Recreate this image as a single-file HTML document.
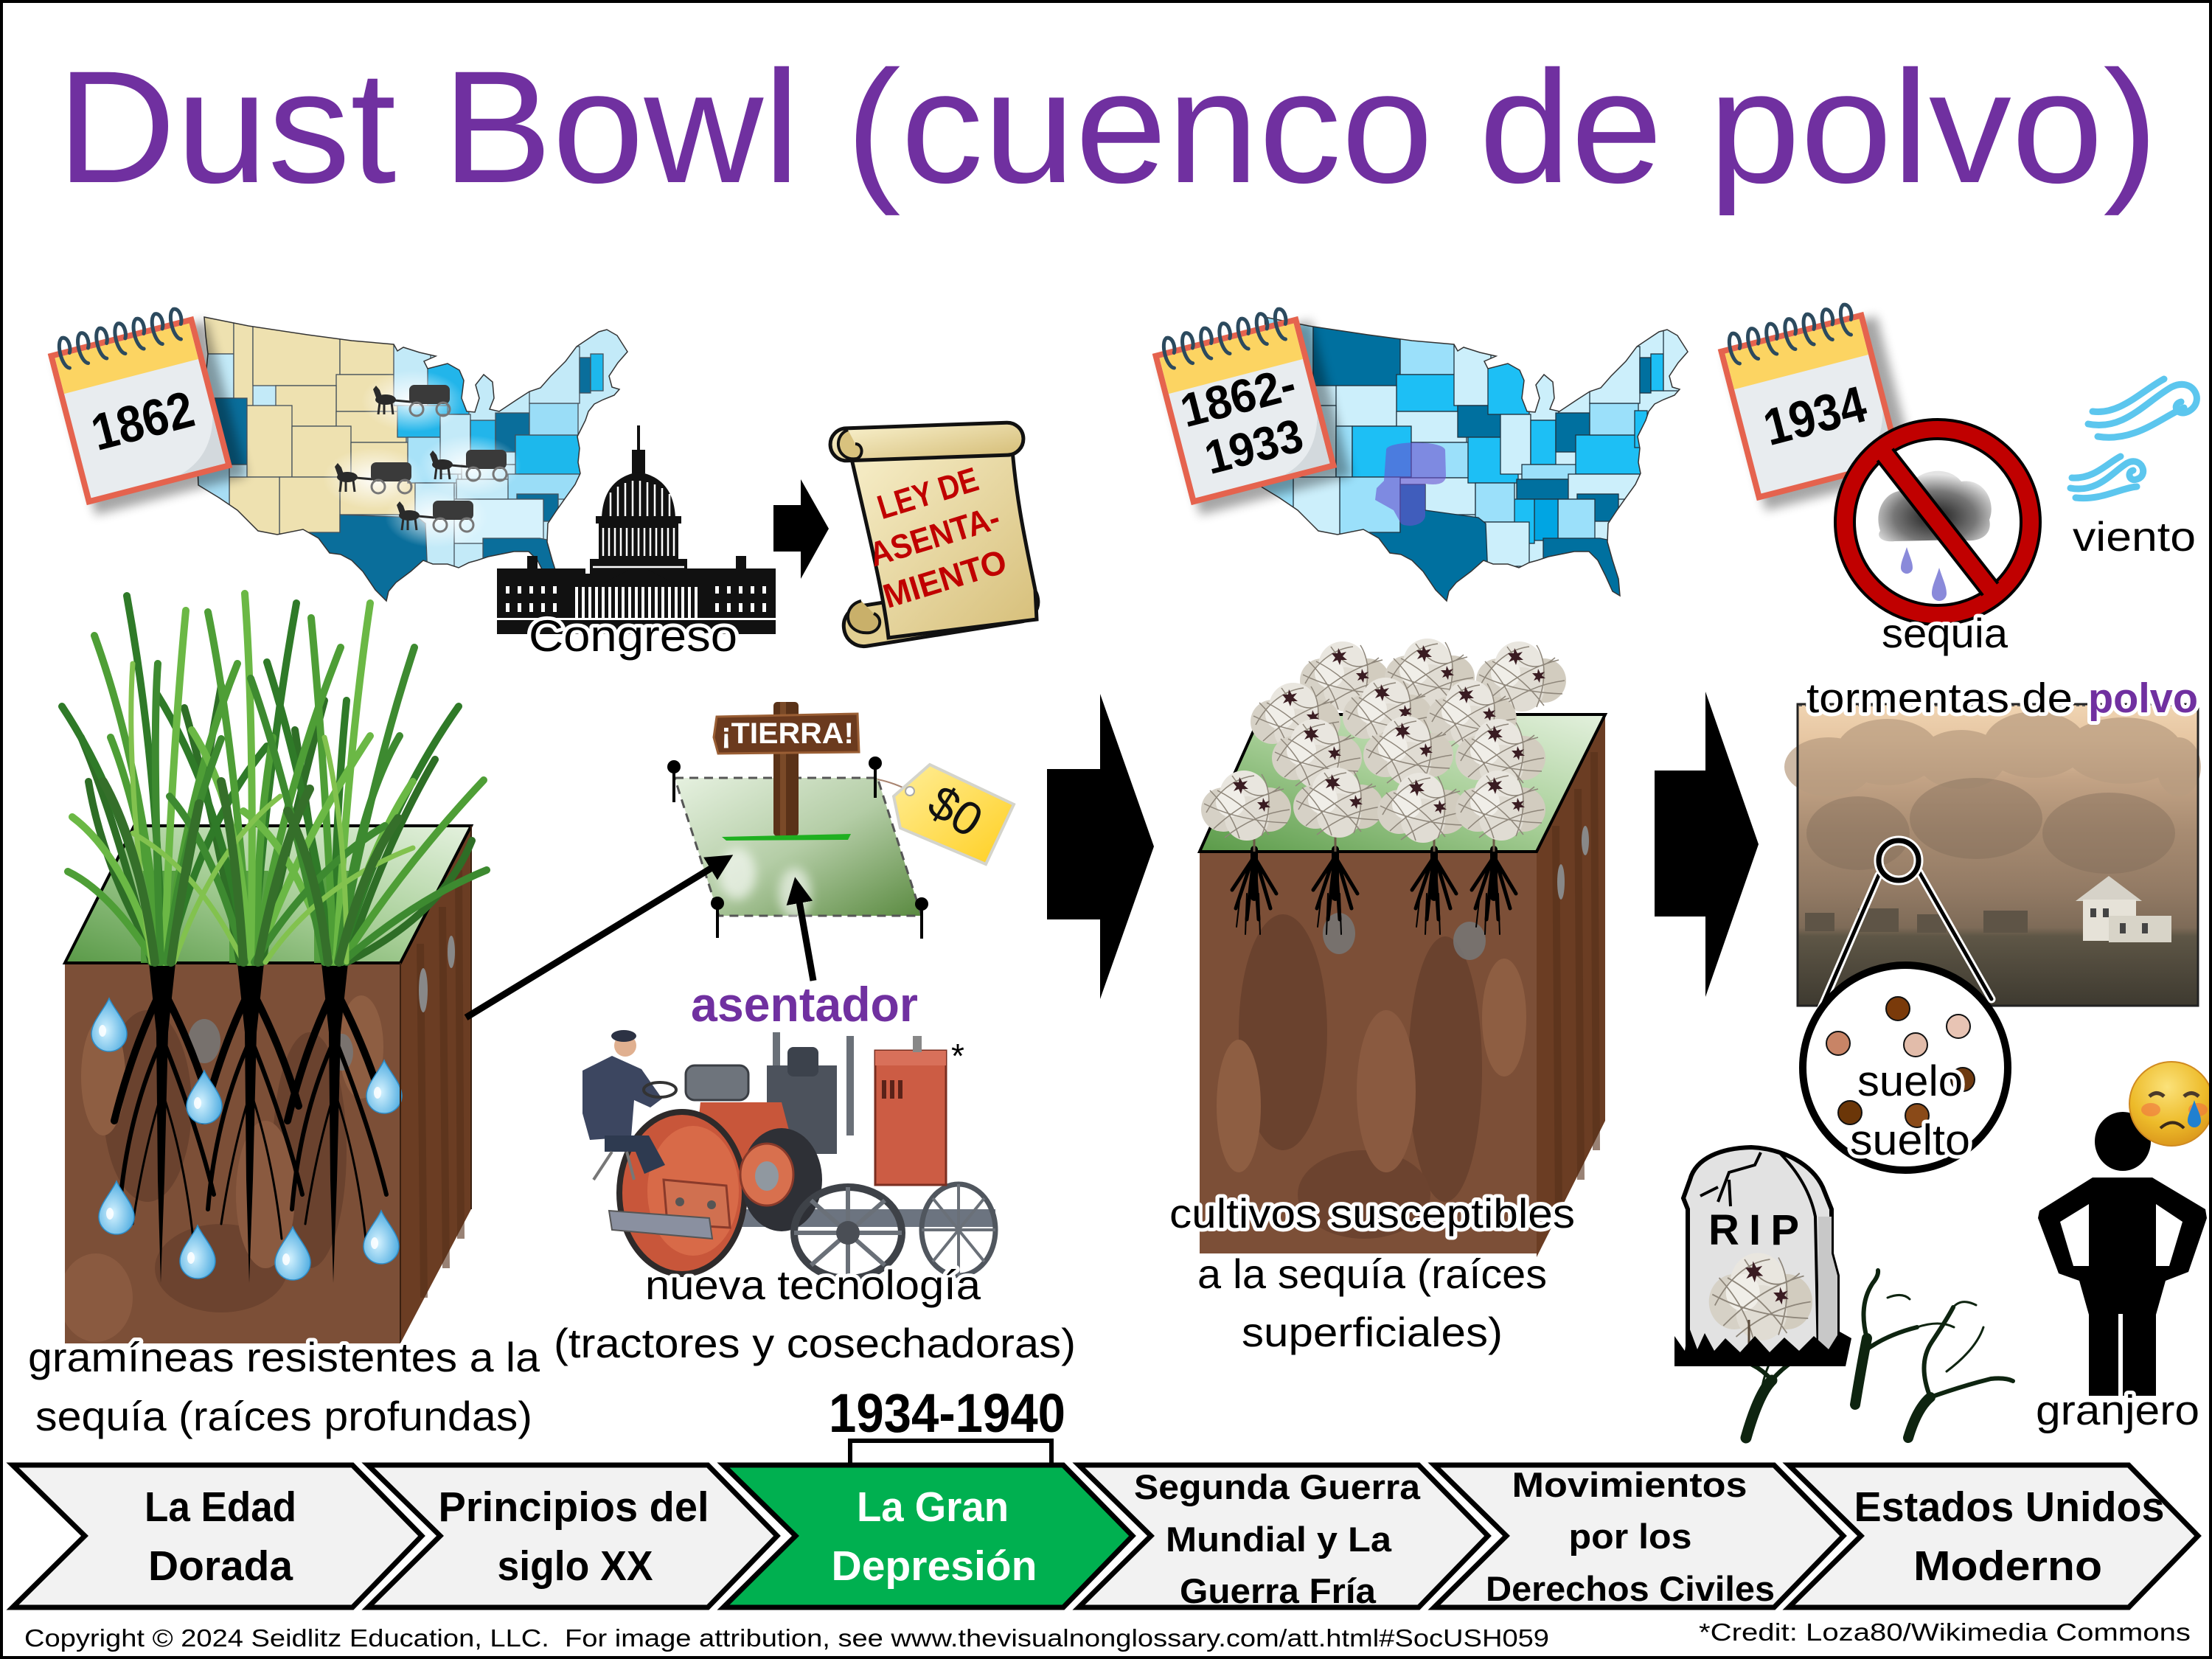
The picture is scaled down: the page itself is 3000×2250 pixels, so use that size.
<!DOCTYPE html>
<html><head><meta charset="utf-8">
<style>
html,body{margin:0;padding:0;background:#fff}
svg{display:block}
text{font-family:"Liberation Sans",sans-serif}
.h{paint-order:stroke;stroke:#fff;stroke-width:10px;stroke-linejoin:round}
.b{font-weight:bold}
</style></head>
<body>
<svg width="3000" height="2250" viewBox="0 0 3000 2250" xmlns="http://www.w3.org/2000/svg">
<defs>
<clipPath id="usc"><path d="M0,0 L60,12 L140,24 L200,32 L257,37 L262,46 L270,41 L292,48 L314,53 L298,60 L303,70 L330,63 L346,72 L352,86 L349,110 L356,128 L367,129 L373,110 L368,92 L379,78 L391,88 L393,110 L387,125 L400,128 L424,112 L441,101 L456,96 L470,80 L490,60 L505,40 L520,30 L535,20 L546,17 L560,25 L574,47 L561,62 L549,80 L553,95 L563,98 L556,106 L541,112 L529,118 L521,128 L517,140 L512,150 L506,162 L509,178 L507,197 L510,212 L503,227 L490,245 L478,262 L466,280 L465,305 L472,330 L480,355 L482,378 L472,372 L462,350 L452,330 L440,318 L420,318 L400,322 L385,325 L370,330 L359,333 L345,340 L330,335 L310,335 L297,330 L280,345 L260,360 L250,372 L247,385 L232,370 L215,345 L200,330 L185,322 L170,320 L155,300 L134,288 L99,295 L73,290 L45,262 L20,245 L-8,228 L-10,180 L-5,140 L0,100 L5,50 L2,25 Z"/></clipPath>
<path id="usp" d="M0,0 L60,12 L140,24 L200,32 L257,37 L262,46 L270,41 L292,48 L314,53 L298,60 L303,70 L330,63 L346,72 L352,86 L349,110 L356,128 L367,129 L373,110 L368,92 L379,78 L391,88 L393,110 L387,125 L400,128 L424,112 L441,101 L456,96 L470,80 L490,60 L505,40 L520,30 L535,20 L546,17 L560,25 L574,47 L561,62 L549,80 L553,95 L563,98 L556,106 L541,112 L529,118 L521,128 L517,140 L512,150 L506,162 L509,178 L507,197 L510,212 L503,227 L490,245 L478,262 L466,280 L465,305 L472,330 L480,355 L482,378 L472,372 L462,350 L452,330 L440,318 L420,318 L400,322 L385,325 L370,330 L359,333 L345,340 L330,335 L310,335 L297,330 L280,345 L260,360 L250,372 L247,385 L232,370 L215,345 L200,330 L185,322 L170,320 L155,300 L134,288 L99,295 L73,290 L45,262 L20,245 L-8,228 L-10,180 L-5,140 L0,100 L5,50 L2,25 Z"/>
<linearGradient id="topg" x1="0" y1="1" x2="1" y2="0"><stop offset="0" stop-color="#5A9A48"/><stop offset=".5" stop-color="#A6CE96"/><stop offset="1" stop-color="#E4F1DE"/></linearGradient>
<linearGradient id="landg" x1="0" y1="0" x2="1" y2="1"><stop offset="0" stop-color="#E6F1E0"/><stop offset=".5" stop-color="#B4CDA6"/><stop offset="1" stop-color="#5A8A40"/></linearGradient>
<linearGradient id="scrollg" x1="0" y1="0" x2="1" y2="1"><stop offset="0" stop-color="#F8F0CC"/><stop offset="1" stop-color="#D6BE78"/></linearGradient>
<linearGradient id="tagg" x1="0" y1="0" x2="1" y2="1"><stop offset="0" stop-color="#FFEE99"/><stop offset="1" stop-color="#FFCF20"/></linearGradient>
<radialGradient id="dropg" cx=".4" cy=".6" r=".7"><stop offset="0" stop-color="#D6F3FF"/><stop offset="1" stop-color="#3CA2DC"/></radialGradient>
<radialGradient id="cloudg" cx=".5" cy=".65" r=".6"><stop offset="0" stop-color="#1A1A1A"/><stop offset=".6" stop-color="#777"/><stop offset="1" stop-color="#E4E4E4"/></radialGradient>
<radialGradient id="glow"><stop offset="0" stop-color="#fff" stop-opacity=".95"/><stop offset="1" stop-color="#fff" stop-opacity="0"/></radialGradient>
<radialGradient id="emg" cx=".45" cy=".3" r=".75"><stop offset="0" stop-color="#FBE27A"/><stop offset=".6" stop-color="#EDBB2A"/><stop offset="1" stop-color="#D8921A"/></radialGradient>
<linearGradient id="phg" x1="0" y1="0" x2="0" y2="1"><stop offset="0" stop-color="#F0D4B2"/><stop offset=".12" stop-color="#E6C6A2"/><stop offset=".24" stop-color="#C4A486"/><stop offset=".42" stop-color="#A88C72"/><stop offset=".62" stop-color="#927A64"/><stop offset=".74" stop-color="#7E6B58"/><stop offset=".77" stop-color="#5E5646"/><stop offset="1" stop-color="#3E3A30"/></linearGradient>
<filter id="sh" x="-30%" y="-30%" width="160%" height="160%"><feGaussianBlur stdDeviation="7"/></filter>
<marker id="ah" viewBox="0 0 10 10" refX="7" refY="5" markerWidth="4" markerHeight="4" orient="auto"><path d="M0,0 L10,5 L0,10 z" fill="#000"/></marker>
<g id="cal">
<rect x="-94" y="-96" width="212" height="218" fill="#000" opacity=".35" filter="url(#sh)"/>
<rect x="-102" y="-106" width="204" height="212" fill="#E5634E"/>
<rect x="-94" y="-98" width="188" height="196" fill="#E8ECEF"/>
<rect x="-94" y="-98" width="188" height="50" fill="#FCD462"/>
<path d="M94,30 L94,98 L30,98 Q80,85 94,30Z" fill="#D3D9DD"/>
<g stroke="#2C4A5E" stroke-width="5" fill="none" stroke-linecap="round">
<path d="M-78,-80 C-88,-84 -88,-118 -78,-122 C-69,-122 -69,-106 -73,-100"/>
<path d="M-52,-80 C-62,-84 -62,-118 -52,-122 C-43,-122 -43,-106 -47,-100"/>
<path d="M-26,-80 C-36,-84 -36,-118 -26,-122 C-17,-122 -17,-106 -21,-100"/>
<path d="M0,-80 C-10,-84 -10,-118 0,-122 C9,-122 9,-106 5,-100"/>
<path d="M26,-80 C16,-84 16,-118 26,-122 C35,-122 35,-106 31,-100"/>
<path d="M52,-80 C42,-84 42,-118 52,-122 C61,-122 61,-106 57,-100"/>
<path d="M78,-80 C68,-84 68,-118 78,-122 C87,-122 87,-106 83,-100"/>
</g>
</g>
<g id="wag">
<ellipse cx="55" cy="24" rx="70" ry="42" fill="url(#glow)"/>
<ellipse cx="18" cy="22" rx="14" ry="7" fill="#2A2A2A"/>
<path d="M6,22 L1,8 L5,3 L10,9 L13,18Z" fill="#2A2A2A"/>
<path d="M10,26 L8,42 M16,27 L16,42 M26,26 L28,42" stroke="#2A2A2A" stroke-width="3"/>
<path d="M30,23 L52,25" stroke="#2A2A2A" stroke-width="3"/>
<rect x="50" y="2" width="55" height="26" rx="7" fill="#3A3A3A"/>
<circle cx="60" cy="35" r="9" fill="none" stroke="#777" stroke-width="3"/>
<circle cx="96" cy="35" r="9" fill="none" stroke="#777" stroke-width="3"/>
</g>
<g id="drop">
<path d="M0,-38 C6,-24 24,-6 24,10 A24,24 0 0 1 -24,10 C-24,-6 -6,-24 0,-38Z" fill="url(#dropg)" stroke="#2C8CC8" stroke-width="1.5"/>
<ellipse cx="-9" cy="6" rx="5" ry="8" fill="#fff" opacity=".85"/>
</g>
<g id="cot">
<circle cx="-32" cy="6" r="30" fill="#D6D1C6"/>
<circle cx="30" cy="6" r="30" fill="#D2CCBF"/>
<circle cx="-4" cy="-14" r="33" fill="#E9E6DF"/>
<circle cx="0" cy="18" r="30" fill="#E0DCD3"/>
<circle cx="-22" cy="-4" r="20" fill="#F0EEE8"/>
<path d="M-55,10 Q-30,-35 10,-40 M-45,32 Q0,-10 50,-22 M-58,-2 Q-10,22 55,24 M-30,44 Q10,12 58,6 M-40,-20 Q0,0 30,40 M20,-42 Q40,-10 20,42 M-50,-20 Q-20,10 -10,45 M45,-25 Q10,5 -20,-40" stroke="#8E867A" stroke-width="1.5" fill="none"/>
<path d="M-10,-38 l4,7 l7,-2 l-5,6 l6,5 l-8,0 l-2,7 l-3,-7 l-7,3 l4,-6 l-5,-6 l8,0 z" fill="#3A1C22"/>
<path d="M22,-10 l3,6 l6,-2 l-4,5 l5,4 l-7,0 l-1,6 l-3,-5 l-5,2 l3,-5 l-5,-5 l7,0 z" fill="#3A1C22"/>
</g>
<g id="root2" stroke="#000" fill="none" stroke-linecap="round">
<path d="M0,0 L0,65" stroke-width="10"/>
<path d="M0,5 L-25,80 M0,5 L-10,95 M0,5 L6,95 M0,5 L22,80 M0,10 L30,60 M0,10 L-30,55" stroke-width="5"/>
<path d="M-10,60 L-12,115 M6,60 L8,115 M-20,70 L-24,105" stroke-width="2"/>
</g>
</defs>

<rect width="3000" height="2250" fill="#fff"/>

<!-- Title -->
<text x="77" y="247" font-size="217" fill="#7030A0" textLength="2850" lengthAdjust="spacingAndGlyphs">Dust Bowl (cuenco de polvo)</text>

<!-- MAP 1 -->
<g transform="translate(277,430)">
<g clip-path="url(#usc)">
<rect x="-20" y="-10" width="620" height="410" fill="#C3EAF8"/>
<g stroke="#44505a" stroke-width="1.3">
<rect x="-10" y="-10" width="50" height="60" fill="#EEE1B0"/>
<rect x="-10" y="50" width="50" height="60" fill="#C3EAF8"/>
<rect x="40" y="-10" width="26" height="130" fill="#EEE1B0"/>
<rect x="66" y="-10" width="118" height="103" fill="#EEE1B0"/>
<rect x="184" y="20" width="75" height="58" fill="#EEE1B0"/>
<rect x="179" y="78" width="83" height="50" fill="#EEE1B0"/>
<rect x="97" y="93" width="82" height="55" fill="#EEE1B0"/>
<rect x="179" y="128" width="95" height="42" fill="#EEE1B0"/>
<rect x="15" y="110" width="43" height="90" fill="#0A6E9B"/>
<rect x="58" y="120" width="61" height="97" fill="#EEE1B0"/>
<rect x="119" y="148" width="80" height="69" fill="#EEE1B0"/>
<rect x="199" y="170" width="85" height="48" fill="#EEE1B0"/>
<rect x="184" y="218" width="102" height="50" fill="#EEE1B0"/>
<rect x="102" y="217" width="82" height="78" fill="#EEE1B0"/>
<rect x="34" y="217" width="68" height="80" fill="#EEE1B0"/>
<rect x="-20" y="200" width="54" height="100" fill="#A8DEF5"/>
<rect x="257" y="20" width="50" height="100" fill="#C3EAF8"/>
<rect x="303" y="60" width="56" height="72" fill="#22B5EA"/>
<rect x="262" y="120" width="68" height="43" fill="#22B5EA"/>
<rect x="276" y="163" width="68" height="62" fill="#A8E2F8"/>
<rect x="320" y="132" width="41" height="81" fill="#C3EAF8"/>
<rect x="361" y="140" width="34" height="60" fill="#22B5EA"/>
<rect x="395" y="130" width="46" height="53" fill="#0A6E9B"/>
<rect x="349" y="200" width="78" height="20" fill="#C3EAF8"/>
<rect x="342" y="220" width="97" height="27" fill="#C3EAF8"/>
<rect x="422" y="160" width="90" height="53" fill="#1DB8EC"/>
<rect x="441" y="117" width="66" height="43" fill="#9ADDF7"/>
<rect x="441" y="40" width="68" height="77" fill="#C3EAF8"/>
<rect x="509" y="55" width="15" height="48" fill="#0A6E9B"/>
<rect x="524" y="50" width="17" height="50" fill="#1DB8EC"/>
<rect x="412" y="213" width="102" height="34" fill="#9ADDF7"/>
<rect x="424" y="240" width="56" height="37" fill="#0A6E9B"/>
<rect x="335" y="247" width="125" height="60" fill="#D6F2FC"/>
<rect x="286" y="225" width="53" height="113" fill="#C3EAF8"/>
<path d="M378,300 L455,300 L470,303 L495,400 L378,400Z" fill="#0A6E9B"/>
<path d="M184,268 L290,272 L300,280 L305,400 L100,400 L100,300 L130,292 L184,292Z" fill="#0A6E9B"/>
</g>
</g>
<use href="#usp" fill="none" stroke="#333" stroke-width="1.5"/>
</g>
<use href="#wag" x="505" y="520"/>
<use href="#wag" x="582" y="608"/>
<use href="#wag" x="453" y="625"/>
<use href="#wag" x="537" y="677"/>

<!-- Calendar 1 -->
<g transform="translate(190,557) rotate(-14.5)">
<use href="#cal"/>
<text x="0" y="38" font-size="70" class="b" text-anchor="middle" textLength="140" lengthAdjust="spacingAndGlyphs">1862</text>
</g>

<!-- Capitol -->
<g fill="#111">
<rect x="864" y="577" width="4" height="35"/>
<rect x="857" y="610" width="18" height="32"/>
<path d="M816,702 C818,660 840,645 866,640 C892,645 914,660 916,702 Z"/>
<rect x="808" y="700" width="116" height="10"/>
<rect x="812" y="710" width="108" height="50"/>
<rect x="800" y="758" width="132" height="22"/>
<rect x="674" y="778" width="378" height="82"/>
<rect x="674" y="771" width="120" height="9"/>
<rect x="932" y="771" width="120" height="9"/>
<rect x="715" y="754" width="14" height="20"/>
<rect x="998" y="754" width="14" height="20"/>
<path d="M816,792 L866,766 L916,792Z"/>
</g>
<g stroke="#fff" stroke-width="2.5">
<path d="M828,668 L828,700 M838,660 L838,700 M848,655 L848,700 M858,652 L858,700 M868,652 L868,700 M878,654 L878,700 M888,657 L888,700 M898,662 L898,700 M908,670 L908,700"/>
<path d="M818,716 L818,754 M826,716 L826,754 M834,716 L834,754 M842,716 L842,754 M850,716 L850,754 M858,716 L858,754 M866,716 L866,754 M874,716 L874,754 M882,716 L882,754 M890,716 L890,754 M898,716 L898,754 M906,716 L906,754 M914,716 L914,754"/>
<path d="M804,769 L928,769"/>
</g>
<g stroke="#fff" stroke-width="4">
<path d="M782,796 L782,838 M791,796 L791,838 M800,796 L800,838 M809,796 L809,838 M818,796 L818,838 M827,796 L827,838 M836,796 L836,838 M845,796 L845,838 M854,796 L854,838 M863,796 L863,838 M872,796 L872,838 M881,796 L881,838 M890,796 L890,838 M899,796 L899,838 M908,796 L908,838 M917,796 L917,838 M926,796 L926,838 M935,796 L935,838 M944,796 L944,838"/>
</g>
<g fill="#fff">
<rect x="686" y="795" width="5" height="10"/><rect x="702" y="795" width="5" height="10"/><rect x="718" y="795" width="5" height="10"/><rect x="734" y="795" width="5" height="10"/><rect x="750" y="795" width="5" height="10"/>
<rect x="686" y="818" width="5" height="12"/><rect x="702" y="818" width="5" height="12"/><rect x="718" y="818" width="5" height="12"/><rect x="734" y="818" width="5" height="12"/><rect x="750" y="818" width="5" height="12"/>
<rect x="970" y="795" width="5" height="10"/><rect x="986" y="795" width="5" height="10"/><rect x="1002" y="795" width="5" height="10"/><rect x="1018" y="795" width="5" height="10"/><rect x="1034" y="795" width="5" height="10"/>
<rect x="970" y="818" width="5" height="12"/><rect x="986" y="818" width="5" height="12"/><rect x="1002" y="818" width="5" height="12"/><rect x="1018" y="818" width="5" height="12"/><rect x="1034" y="818" width="5" height="12"/>
<rect x="674" y="838" width="378" height="3"/>
</g>
<text x="717" y="883" font-size="60" class="h" textLength="283" lengthAdjust="spacingAndGlyphs">Congreso</text>

<!-- small arrow -->
<path d="M1049,685 L1086,685 L1086,650 L1124,717 L1086,785 L1086,748 L1049,748Z" fill="#000"/>

<!-- Scroll -->
<rect x="1143" y="805" width="266" height="55" rx="27" fill="#E2CF92" stroke="#111" stroke-width="5" transform="rotate(-9 1276 832)"/>
<path d="M1150,600 L1372,598 C1378,680 1392,740 1404,800 L1406,840 L1205,865 C1198,800 1172,700 1150,600Z" fill="url(#scrollg)" stroke="#111" stroke-width="5"/>
<path d="M1168,815 C1140,822 1145,862 1180,858 C1195,855 1198,838 1185,832" fill="#C9B06A" stroke="#111" stroke-width="4"/>
<rect x="1126" y="577" width="262" height="44" rx="22" fill="url(#scrollg)" stroke="#111" stroke-width="5" transform="rotate(-2 1257 599)"/>
<path d="M1150,583 C1128,592 1135,626 1162,622 C1172,618 1170,602 1160,602" fill="#D8C27E" stroke="#111" stroke-width="4"/>
<g fill="#C00000" class="b" font-size="46" text-anchor="middle">
<text transform="translate(1263,684) rotate(-17)" textLength="140" lengthAdjust="spacingAndGlyphs">LEY DE</text>
<text transform="translate(1272,742) rotate(-17)" textLength="182" lengthAdjust="spacingAndGlyphs">ASENTA-</text>
<text transform="translate(1286,800) rotate(-17)" textLength="172" lengthAdjust="spacingAndGlyphs">MIENTO</text>
</g>

<!-- CUBE 1 -->
<defs><clipPath id="f1"><rect x="88" y="1306" width="455" height="516"/></clipPath><clipPath id="f2"><rect x="1627" y="1155" width="457" height="545"/></clipPath></defs>
<rect x="88" y="1306" width="455" height="516" fill="#7C4F37"/>
<g clip-path="url(#f1)">
<ellipse cx="200" cy="1500" rx="60" ry="130" fill="#6A422E"/>
<ellipse cx="420" cy="1560" rx="50" ry="160" fill="#6A422E"/>
<ellipse cx="300" cy="1720" rx="90" ry="60" fill="#6C432F"/>
<ellipse cx="140" cy="1460" rx="30" ry="80" fill="#8E5E42"/>
<ellipse cx="360" cy="1620" rx="40" ry="100" fill="#8A5A40"/>
<ellipse cx="490" cy="1420" rx="30" ry="70" fill="#8E5E42"/>
<ellipse cx="130" cy="1760" rx="50" ry="60" fill="#8A5A40"/>
</g>
<path d="M543,1306 L639,1120 L639,1640 L543,1822Z" fill="#6B3D23"/>
<path d="M570,1280 L575,1760 M600,1230 L605,1720 M622,1180 L625,1680" stroke="#56301A" stroke-width="10" opacity=".6"/>
<ellipse cx="277" cy="1412" rx="22" ry="30" fill="#777" opacity=".85"/>
<ellipse cx="464" cy="1427" rx="15" ry="25" fill="#777" opacity=".85"/>
<ellipse cx="612" cy="1291" rx="5" ry="22" fill="#888"/>
<ellipse cx="574" cy="1343" rx="6" ry="30" fill="#888"/>
<!-- roots -->
<g fill="#000">
<path d="M202,1306 L238,1306 L228,1400 L223,1600 L218,1740 L214,1600 L212,1400Z"/>
<path d="M322,1306 L358,1306 L348,1400 L343,1600 L338,1740 L334,1600 L332,1400Z"/>
<path d="M436,1306 L472,1306 L462,1400 L457,1600 L452,1740 L448,1600 L446,1400Z"/>
</g>
<g stroke="#000" fill="none" stroke-linecap="round">
<path d="M220,1340 Q180,1420 155,1520 M220,1340 Q262,1420 285,1500 M340,1340 Q300,1420 275,1520 M340,1340 Q382,1420 405,1500 M454,1340 Q414,1420 390,1520 M454,1340 Q496,1420 520,1500" stroke-width="10"/>
<path d="M215,1420 Q172,1520 162,1640 M225,1420 Q268,1530 290,1620 M335,1420 Q292,1520 282,1640 M345,1420 Q388,1530 410,1620 M449,1420 Q406,1520 396,1640 M459,1420 Q502,1530 524,1620" stroke-width="6"/>
<path d="M220,1480 Q195,1560 180,1660 M340,1480 Q315,1560 300,1660 M454,1480 Q429,1560 414,1660 M220,1480 Q250,1570 262,1680 M340,1480 Q370,1570 382,1680 M454,1480 Q484,1570 496,1680" stroke-width="3"/>
</g>
<use href="#drop" x="148" y="1392"/>
<use href="#drop" x="277" y="1490"/>
<use href="#drop" x="521" y="1476"/>
<use href="#drop" x="158" y="1640"/>
<use href="#drop" x="268" y="1700"/>
<use href="#drop" x="397" y="1702"/>
<use href="#drop" x="517" y="1680"/>
<path d="M88,1306 L182,1120 L639,1120 L543,1306Z" fill="url(#topg)" stroke="#000" stroke-width="4"/>
<path d="M543,1306 L543,1822 M639,1120 L639,1640" stroke="#3a2010" stroke-width="2"/>
<!-- grass -->
<g fill="#4E9A38" opacity=".9">
<rect x="191" y="1181" width="48" height="125"/>
<rect x="311" y="1181" width="53" height="125"/>
<rect x="426" y="1181" width="52" height="125"/>
</g>
<g fill="none" stroke-width="10" stroke-linecap="round">
<g stroke="#2E6E26">
<path d="M205,1305 Q160,1120 110,1000"/><path d="M230,1305 Q270,1100 300,930"/><path d="M325,1305 Q290,1100 250,960"/><path d="M355,1305 Q400,1100 440,950"/><path d="M445,1305 Q420,1120 400,990"/><path d="M470,1305 Q520,1150 590,1030"/><path d="M215,1305 Q140,1180 120,1060"/><path d="M470,1305 Q600,1240 640,1140"/>
</g>
<g stroke="#2F7A28">
<path d="M214,1305 Q178,1100 84,958"/><path d="M220,1305 Q214,1040 172,808"/><path d="M228,1305 Q272,1120 362,1012"/><path d="M335,1305 Q300,1080 212,940"/><path d="M343,1305 Q362,1040 402,818"/><path d="M450,1305 Q420,1080 362,898"/><path d="M461,1305 Q522,1100 622,958"/><path d="M452,1305 Q455,1100 470,950"/>
</g>
<g stroke="#4E9E36">
<path d="M217,1305 Q196,1050 128,862"/><path d="M225,1305 Q252,1075 322,900"/><path d="M338,1305 Q320,1020 282,830"/><path d="M346,1305 Q382,1080 462,878"/><path d="M453,1305 Q440,1030 422,838"/><path d="M463,1305 Q542,1180 656,1058"/><path d="M210,1305 Q150,1210 92,1182"/><path d="M222,1305 Q190,1100 150,1000"/><path d="M350,1305 Q345,1150 370,1000"/>
</g>
<g stroke="#6BB845">
<path d="M223,1305 Q232,1040 252,828"/><path d="M212,1305 Q168,1160 98,1108"/><path d="M340,1305 Q346,1000 332,805"/><path d="M348,1305 Q402,1150 502,998"/><path d="M456,1305 Q472,1020 502,818"/><path d="M448,1305 Q400,1150 330,1100"/><path d="M337,1305 Q330,1100 260,990"/><path d="M458,1305 Q500,1150 560,1060"/>
</g>
<g stroke="#3D8A30">
<path d="M218,1305 Q206,1010 214,900"/><path d="M226,1305 Q244,1150 300,1002"/><path d="M332,1305 Q290,1150 230,1080"/><path d="M345,1305 Q422,1180 522,1120"/><path d="M458,1305 Q502,1060 562,878"/><path d="M459,1305 Q482,1100 542,998"/><path d="M464,1305 Q562,1220 660,1180"/><path d="M440,1305 Q390,1060 340,920"/>
</g>
<g stroke="#82C24E" stroke-width="7">
<path d="M236,1305 Q290,1150 380,1080"/><path d="M330,1305 Q270,1180 180,1130"/><path d="M360,1305 Q430,1200 560,1150"/><path d="M470,1305 Q470,1120 440,1000"/><path d="M205,1305 Q170,1050 180,900"/>
</g>
<g stroke="#356F2A" stroke-width="12">
<path d="M210,1305 Q190,1150 140,1060"/><path d="M330,1305 Q320,1150 300,1060"/><path d="M350,1305 Q380,1150 420,1070"/><path d="M460,1305 Q490,1180 540,1110"/><path d="M445,1305 Q430,1180 390,1100"/><path d="M232,1305 Q250,1180 270,1090"/>
</g>
</g>

<!-- land plot -->
<path d="M915,1055 L1190,1055 L1250,1242 L975,1242Z" fill="url(#landg)" stroke="#555" stroke-width="3" stroke-dasharray="12 8"/>
<ellipse cx="1000" cy="1185" rx="25" ry="35" fill="#fff" opacity=".6" filter="url(#sh)"/>
<ellipse cx="1078" cy="1212" rx="22" ry="35" fill="#fff" opacity=".6" filter="url(#sh)"/>
<g stroke="#000" stroke-width="4">
<line x1="914" y1="1040" x2="914" y2="1088"/><line x1="1187" y1="1035" x2="1187" y2="1082"/><line x1="973" y1="1225" x2="973" y2="1272"/><line x1="1250" y1="1226" x2="1250" y2="1273"/>
</g>
<g fill="#000"><circle cx="914" cy="1040" r="9"/><circle cx="1187" cy="1035" r="9"/><circle cx="973" cy="1225" r="9"/><circle cx="1250" cy="1226" r="9"/></g>
<rect x="1049" y="952" width="34" height="182" rx="5" fill="#5A3218"/>
<rect x="1058" y="952" width="8" height="182" fill="#7A4A28"/>
<path d="M972,972 L1163,968 L1165,1020 L974,1022 L968,1000Z" fill="#6B3A1E" stroke="#9A5E34" stroke-width="3"/>
<text x="978" y="1008" font-size="40" class="b" fill="#fff" textLength="180" lengthAdjust="spacingAndGlyphs">¡TIERRA!</text>
<path d="M979,1135 L1154,1131 L1150,1139 L985,1140Z" fill="#1FB020"/>
<path d="M1190,1057 C1205,1060 1222,1066 1234,1073" stroke="#A88470" stroke-width="2" fill="none"/>
<path d="M1212,1080 L1261,1037 L1375,1091 L1337,1172 L1221,1123Z" fill="url(#tagg)" stroke="#D4D4CC" stroke-width="4"/>
<circle cx="1234" cy="1073" r="6" fill="#fff" stroke="#aaa" stroke-width="2"/>
<text transform="translate(1296,1100) rotate(32)" y="22" font-size="64" text-anchor="middle" fill="#111">$0</text>

<!-- arrows to land (drawn over the plot) -->
<line x1="632" y1="1380" x2="985" y2="1165" stroke="#000" stroke-width="9" marker-end="url(#ah)"/>
<line x1="1103" y1="1330" x2="1080" y2="1200" stroke="#000" stroke-width="9" marker-end="url(#ah)"/>

<!-- Tractor -->
<g>
<path d="M1048,1400 L1058,1400 L1058,1540 L1048,1540Z M1148,1405 L1158,1405 L1158,1540 L1148,1540Z" fill="#6A7078"/>
<rect x="1000" y="1640" width="350" height="24" fill="#6C7480"/>
<ellipse cx="1300" cy="1668" rx="50" ry="62" fill="none" stroke="#50565E" stroke-width="7"/>
<path d="M1300,1606 L1300,1730 M1250,1668 L1350,1668 M1265,1625 L1335,1711 M1335,1625 L1265,1711" stroke="#6A7078" stroke-width="4"/>
<rect x="1187" y="1425" width="96" height="182" fill="#CC5C44" stroke="#7A2E20" stroke-width="3"/>
<rect x="1187" y="1425" width="96" height="20" fill="#D8705A"/>
<rect x="1238" y="1405" width="12" height="22" fill="#888"/>
<g fill="#5A2218"><rect x="1196" y="1465" width="6" height="25"/><rect x="1207" y="1465" width="6" height="25"/><rect x="1218" y="1465" width="6" height="25"/></g>
<rect x="1040" y="1445" width="95" height="120" fill="#4C525C"/>
<rect x="1068" y="1420" width="42" height="40" rx="8" fill="#3C424C"/>
<rect x="930" y="1445" width="85" height="47" rx="12" fill="#6E747C" stroke="#3A3E44" stroke-width="3"/>
<path d="M950,1495 L1060,1495 L1085,1590 L940,1585Z" fill="#C8563A"/>
<ellipse cx="925" cy="1618" rx="85" ry="110" fill="#C8563A" stroke="#2E2A2A" stroke-width="8"/>
<ellipse cx="940" cy="1615" rx="62" ry="88" fill="#D86A48"/>
<path d="M900,1600 L985,1608 L990,1665 L905,1660Z" fill="#D07050" stroke="#8A3A2A" stroke-width="3"/>
<circle cx="922" cy="1630" r="6" fill="#555"/><circle cx="965" cy="1634" r="6" fill="#555"/>
<ellipse cx="1060" cy="1600" rx="55" ry="70" fill="#2E3036"/>
<ellipse cx="1040" cy="1593" rx="36" ry="42" fill="#D8704E" stroke="#8A3A2A" stroke-width="3"/>
<ellipse cx="1040" cy="1595" rx="16" ry="20" fill="#9098A0"/>
<path d="M826,1642 L962,1652 L966,1680 L830,1668Z" fill="#8A90A0" stroke="#555" stroke-width="2"/>
<ellipse cx="1150" cy="1672" rx="73" ry="62" fill="none" stroke="#3E4248" stroke-width="10"/>
<path d="M1150,1610 L1150,1734 M1077,1672 L1223,1672 M1100,1628 L1200,1716 M1200,1628 L1100,1716" stroke="#6A7078" stroke-width="6"/>
<circle cx="1150" cy="1672" r="16" fill="#4A4E55"/>
<path d="M790,1452 L830,1432 L870,1450 L898,1490 L882,1502 L860,1492 L856,1542 L800,1546 L790,1510Z" fill="#3C4660"/>
<path d="M820,1540 L880,1540 L902,1580 L874,1592 L862,1562 L820,1562Z" fill="#2E3A50"/>
<circle cx="848" cy="1418" r="15" fill="#E0B090"/>
<ellipse cx="846" cy="1405" rx="17" ry="8" fill="#2C3244"/>
<ellipse cx="895" cy="1478" rx="22" ry="10" fill="none" stroke="#333" stroke-width="4"/>
<path d="M830,1562 L805,1600 M850,1562 L860,1600" stroke="#777" stroke-width="4"/>
</g>
<text x="1290" y="1448" font-size="46" fill="#000">*</text>
<text x="937" y="1385" font-size="66" class="b h" fill="#7030A0" textLength="308" lengthAdjust="spacingAndGlyphs">asentador</text>

<!-- big arrows -->
<path d="M1420,1043 L1492,1043 L1492,941 L1565,1148 L1492,1355 L1492,1247 L1420,1247Z" fill="#000"/>
<path d="M2244,1045 L2313,1045 L2313,938 L2385,1145 L2313,1352 L2313,1243 L2244,1243Z" fill="#000"/>

<!-- MAP 2 -->
<g transform="translate(1715,430)">
<g clip-path="url(#usc)">
<rect x="-20" y="-10" width="620" height="410" fill="#CCEFFB"/>
<g stroke="#1f3340" stroke-width="1.3">
<rect x="-20" y="-10" width="86" height="130" fill="#9BE0FA"/>
<rect x="66" y="-10" width="118" height="103" fill="#00709F"/>
<rect x="184" y="20" width="75" height="58" fill="#9BE0FA"/>
<rect x="179" y="78" width="83" height="50" fill="#1DBFF5"/>
<rect x="97" y="93" width="82" height="55" fill="#CCEFFB"/>
<rect x="179" y="128" width="95" height="42" fill="#CCEFFB"/>
<rect x="39" y="120" width="58" height="100" fill="#CCEFFB"/>
<rect x="97" y="148" width="22" height="69" fill="#9BE0FA"/>
<rect x="119" y="148" width="80" height="69" fill="#1DBFF5"/>
<rect x="199" y="170" width="85" height="48" fill="#9BE0FA"/>
<rect x="184" y="218" width="102" height="50" fill="#CCEFFB"/>
<rect x="102" y="217" width="82" height="78" fill="#9BE0FA"/>
<rect x="34" y="217" width="68" height="80" fill="#CCEFFB"/>
<rect x="-20" y="120" width="59" height="180" fill="#9BE0FA"/>
<rect x="257" y="20" width="50" height="100" fill="#CCEFFB"/>
<rect x="262" y="120" width="68" height="43" fill="#00709F"/>
<rect x="276" y="163" width="68" height="62" fill="#1DBFF5"/>
<rect x="303" y="60" width="56" height="72" fill="#1DBFF5"/>
<rect x="359" y="50" width="40" height="90" fill="#CCEFFB"/>
<rect x="320" y="132" width="41" height="81" fill="#CCEFFB"/>
<rect x="361" y="140" width="34" height="60" fill="#1DBFF5"/>
<rect x="395" y="130" width="46" height="53" fill="#00709F"/>
<rect x="349" y="200" width="78" height="20" fill="#9BE0FA"/>
<rect x="342" y="220" width="97" height="27" fill="#00709F"/>
<rect x="422" y="160" width="90" height="53" fill="#1DBFF5"/>
<rect x="441" y="117" width="66" height="43" fill="#9BE0FA"/>
<rect x="441" y="40" width="68" height="77" fill="#CCEFFB"/>
<rect x="509" y="55" width="15" height="48" fill="#00709F"/>
<rect x="524" y="50" width="17" height="50" fill="#1DBFF5"/>
<rect x="541" y="-10" width="40" height="110" fill="#CCEFFB"/>
<rect x="502" y="127" width="17" height="50" fill="#1DBFF5"/>
<rect x="412" y="213" width="102" height="34" fill="#CCEFFB"/>
<rect x="424" y="240" width="56" height="37" fill="#00709F"/>
<rect x="398" y="247" width="50" height="56" fill="#9BE0FA"/>
<rect x="366" y="247" width="32" height="56" fill="#00A5E3"/>
<rect x="330" y="247" width="36" height="60" fill="#1DBFF5"/>
<rect x="286" y="225" width="53" height="53" fill="#9BE0FA"/>
<rect x="286" y="278" width="73" height="60" fill="#CCEFFB"/>
<path d="M378,300 L455,300 L470,303 L495,400 L378,400Z" fill="#00709F"/>
<path d="M184,227 L218,227 L218,262 L290,272 L300,280 L305,400 L100,400 L100,300 L130,292 L184,292Z" fill="#00709F"/>
</g>
<path d="M165,180 C165,168 240,166 245,180 L246,215 C246,228 230,228 218,226 L218,270 C215,285 190,285 185,280 L175,262 L150,248 L152,232 L162,222 Z" fill="#6A50D0" opacity=".6"/>
</g>
<use href="#usp" fill="none" stroke="#333" stroke-width="1.5"/>
</g>
<g transform="translate(1688,557) rotate(-14.5)">
<use href="#cal"/>
<text x="-4" y="2" font-size="64" class="b" text-anchor="middle" textLength="158" lengthAdjust="spacingAndGlyphs">1862-</text>
<text x="0" y="72" font-size="64" class="b" text-anchor="middle" textLength="134" lengthAdjust="spacingAndGlyphs">1933</text>
</g>

<!-- CUBE 2 -->
<rect x="1627" y="1155" width="457" height="545" fill="#7C4F37"/>
<g clip-path="url(#f2)">
<ellipse cx="1740" cy="1400" rx="60" ry="160" fill="#6A422E"/>
<ellipse cx="1960" cy="1450" rx="50" ry="180" fill="#6A422E"/>
<ellipse cx="1850" cy="1620" rx="90" ry="60" fill="#6C432F"/>
<ellipse cx="1680" cy="1500" rx="30" ry="90" fill="#8E5E42"/>
<ellipse cx="1880" cy="1480" rx="40" ry="110" fill="#8A5A40"/>
<ellipse cx="2040" cy="1380" rx="30" ry="80" fill="#8E5E42"/>
</g>
<path d="M2084,1155 L2177,969 L2177,1520 L2084,1705Z" fill="#6B3D23"/>
<path d="M2110,1120 L2114,1650 M2140,1070 L2144,1600 M2162,1020 L2165,1560" stroke="#56301A" stroke-width="10" opacity=".6"/>
<ellipse cx="1816" cy="1266" rx="22" ry="28" fill="#777" opacity=".85"/>
<ellipse cx="1993" cy="1276" rx="22" ry="26" fill="#777" opacity=".85"/>
<ellipse cx="2150" cy="1140" rx="5" ry="20" fill="#888"/>
<ellipse cx="2117" cy="1196" rx="5" ry="24" fill="#888"/>
<path d="M1627,1155 L1710,969 L2177,969 L2084,1155Z" fill="url(#topg)" stroke="#000" stroke-width="4"/>
<use href="#root2" x="1701" y="1152"/>
<use href="#root2" x="1811" y="1152"/>
<use href="#root2" x="1945" y="1152"/>
<use href="#root2" x="2026" y="1152"/>
<g stroke="#6B5A48" stroke-width="3">
<path d="M1701,1110 L1701,1155 M1811,1105 L1811,1155 M1945,1110 L1945,1155 M2026,1110 L2026,1155"/>
</g>
<use href="#cot" x="1825" y="917"/>
<use href="#cot" x="1940" y="913"/>
<use href="#cot" x="2064" y="917"/>
<use href="#cot" x="1758" y="973"/>
<use href="#cot" x="1883" y="966"/>
<use href="#cot" x="1997" y="969"/>
<use href="#cot" x="1787" y="1022"/>
<use href="#cot" x="1911" y="1018"/>
<use href="#cot" x="2036" y="1022"/>
<use href="#cot" x="1691" y="1092"/>
<use href="#cot" x="1816" y="1088"/>
<use href="#cot" x="1930" y="1095"/>
<use href="#cot" x="2036" y="1092"/>

<!-- Calendar 3, sign, wind -->
<g transform="translate(2455,551) rotate(-14.5)">
<use href="#cal"/>
<text x="3" y="38" font-size="70" class="b" text-anchor="middle" textLength="140" lengthAdjust="spacingAndGlyphs">1934</text>
</g>
<circle cx="2628" cy="708" r="114" fill="#fff"/>
<path d="M2550,720 C2540,690 2560,662 2585,666 C2595,638 2640,628 2660,653 C2690,648 2708,680 2698,705 C2703,727 2682,737 2660,732 L2570,734 C2553,736 2544,728 2550,720Z" fill="url(#cloudg)"/>
<path d="M2586,742 C2590,755 2594,762 2594,770 A8,8 0 0 1 2578,770 C2578,762 2582,755 2586,742Z" fill="#8A8ADA"/>
<path d="M2630,770 C2635,786 2640,795 2640,805 A10,10 0 0 1 2620,805 C2620,795 2625,786 2630,770Z" fill="#8A8ADA"/>
<circle cx="2628" cy="708" r="126" fill="none" stroke="#000" stroke-width="30"/>
<circle cx="2628" cy="708" r="126" fill="none" stroke="#C00000" stroke-width="22"/>
<g transform="translate(2628,708) rotate(52)"><rect x="-116" y="-15" width="232" height="30" fill="#000"/><rect x="-120" y="-11" width="240" height="22" fill="#C00000"/></g>
<text x="2552" y="878" font-size="56" class="h" textLength="171" lengthAdjust="spacingAndGlyphs">sequia</text>
<g stroke="#5CC6EE" stroke-width="9" fill="none" stroke-linecap="round">
<path d="M2832,575 C2880,585 2910,545 2945,525 C2975,510 2992,545 2968,558 C2952,566 2945,548 2958,545"/>
<path d="M2845,592 C2895,600 2930,567 2962,553"/>
<path d="M2838,558 C2875,563 2905,530 2935,514"/>
<path d="M2808,662 C2845,669 2865,640 2885,628 C2905,618 2915,645 2898,650 C2888,654 2884,640 2893,638"/>
<path d="M2815,675 C2850,679 2875,662 2898,660"/>
<path d="M2810,648 C2840,650 2858,628 2876,619"/>
</g>
<text x="2811" y="747" font-size="56" textLength="167" lengthAdjust="spacingAndGlyphs">viento</text>

<!-- Photo -->
<rect x="2438" y="955" width="543" height="409" fill="url(#phg)"/>
<g fill="#B89C80" opacity=".7">
<ellipse cx="2480" cy="1040" rx="60" ry="40"/><ellipse cx="2560" cy="1020" rx="70" ry="45"/><ellipse cx="2660" cy="1030" rx="60" ry="40"/><ellipse cx="2760" cy="1010" rx="70" ry="45"/><ellipse cx="2880" cy="1018" rx="80" ry="45"/><ellipse cx="2955" cy="1040" rx="30" ry="40"/>
</g>
<g fill="#7E6A58" opacity=".4">
<ellipse cx="2520" cy="1130" rx="70" ry="50"/><ellipse cx="2680" cy="1110" rx="90" ry="55"/><ellipse cx="2860" cy="1130" rx="90" ry="55"/>
</g>
<g fill="#5E5446">
<rect x="2448" y="1238" width="40" height="25"/><rect x="2520" y="1232" width="55" height="32"/><rect x="2600" y="1240" width="40" height="25"/><rect x="2690" y="1235" width="60" height="30"/>
</g>
<path d="M2815,1222 L2860,1188 L2905,1222Z" fill="#D6D2C8"/>
<rect x="2825" y="1220" width="72" height="56" fill="#E6E2D8"/>
<rect x="2860" y="1242" width="85" height="36" fill="#D8D4C8"/>
<g fill="#444"><rect x="2835" y="1232" width="8" height="12"/><rect x="2852" y="1232" width="8" height="12"/><rect x="2875" y="1252" width="8" height="14"/><rect x="2905" y="1252" width="8" height="14"/></g>
<rect x="2438" y="955" width="543" height="409" fill="none" stroke="#222" stroke-width="3"/>
<line x1="2440" y1="957" x2="2981" y2="957" stroke="#555" stroke-width="2" stroke-dasharray="4 4"/>
<text x="2450" y="966" font-size="57" class="h" textLength="361" lengthAdjust="spacingAndGlyphs">tormentas de</text>
<text x="2832" y="966" font-size="57" class="b h" fill="#7030A0" textLength="149" lengthAdjust="spacingAndGlyphs">polvo</text>

<!-- magnifier -->
<g stroke-linecap="round">
<path d="M2548,1187 L2457,1397 M2603,1183 L2701,1355" stroke="#fff" stroke-width="11"/>
<path d="M2548,1187 L2457,1397 M2603,1183 L2701,1355" stroke="#000" stroke-width="5"/>
</g>
<circle cx="2575" cy="1167" r="27" fill="none" stroke="#fff" stroke-width="13"/>
<circle cx="2575" cy="1167" r="27" fill="none" stroke="#000" stroke-width="7"/>
<circle cx="2584" cy="1448" r="139" fill="#fff" stroke="#000" stroke-width="10"/>
<g stroke="#111" stroke-width="2">
<circle cx="2574" cy="1368" r="16" fill="#7A3A0A"/>
<circle cx="2656" cy="1392" r="16" fill="#E8C4B4"/>
<circle cx="2493" cy="1415" r="16" fill="#C88466"/>
<circle cx="2598" cy="1417" r="16" fill="#E2BCAA"/>
<circle cx="2662" cy="1464" r="16" fill="#6E3A10"/>
<circle cx="2509" cy="1509" r="16" fill="#6B3608"/>
<circle cx="2600" cy="1513" r="16" fill="#8A4A18"/>
</g>
<text x="2519" y="1486" font-size="58" class="h" textLength="143" lengthAdjust="spacingAndGlyphs">suelo</text>
<text x="2509" y="1566" font-size="58" class="h" textLength="163" lengthAdjust="spacingAndGlyphs">suelto</text>

<!-- tree -->
<g stroke="#0E2410" fill="none" stroke-linecap="round">
<path d="M2368,1950 Q2385,1890 2403,1872" stroke-width="15"/>
<path d="M2516,1905 Q2525,1850 2532,1815" stroke-width="14"/>
<path d="M2588,1950 Q2600,1910 2618,1895" stroke-width="14"/>
<path d="M2403,1872 Q2380,1845 2340,1840 M2403,1872 Q2430,1840 2470,1830 M2532,1815 Q2520,1770 2540,1740 Q2548,1730 2547,1723 M2532,1830 Q2560,1810 2600,1800 M2618,1895 Q2600,1850 2620,1820 Q2640,1790 2649,1773 M2618,1895 Q2660,1880 2700,1870 Q2720,1868 2730,1873" stroke-width="6"/>
<path d="M2390,1880 Q2400,1830 2440,1800 M2560,1760 Q2580,1752 2590,1762 M2640,1860 Q2680,1830 2690,1800 M2600,1800 Q2630,1790 2650,1800 M2470,1830 Q2490,1825 2500,1835 M2649,1773 Q2660,1760 2680,1770" stroke-width="3"/>
</g>

<!-- tombstone -->
<path d="M2289,1840 L2289,1640 L2283,1625 L2292,1600 C2300,1570 2335,1557 2375,1556 C2420,1558 2458,1580 2472,1610 L2484,1640 L2484,1700 L2492,1730 L2492,1840 Z" fill="#E2E2E2" stroke="#000" stroke-width="6"/>
<path d="M2412,1562 C2440,1590 2456,1620 2462,1650 L2466,1840" stroke="#000" stroke-width="4" fill="none"/>
<path d="M2466,1650 L2484,1650 L2484,1700 L2492,1730 L2492,1840 L2466,1840Z" fill="#C8C8C8"/>
<path d="M2330,1630 L2345,1590 L2380,1580 L2388,1563 M2345,1600 L2347,1636 M2330,1610 L2306,1622" stroke="#000" stroke-width="4" fill="none"/>
<text x="2317" y="1688" font-size="58" class="b" textLength="123" lengthAdjust="spacing">RIP</text>
<use href="#cot" transform="translate(2389,1758) scale(1.15,1.25)"/>
<path d="M2372,1790 L2372,1830" stroke="#5a4a3a" stroke-width="3"/>
<path d="M2271,1812 L2285,1832 L2290,1798 L2302,1830 L2312,1808 L2325,1832 L2340,1815 L2360,1834 L2380,1812 L2400,1834 L2420,1814 L2440,1832 L2460,1812 L2480,1830 L2495,1806 L2511,1815 L2503,1853 L2271,1853Z" fill="#000"/>

<!-- farmer -->
<ellipse cx="2879" cy="1548" rx="38" ry="40" fill="#000"/>
<path d="M2838,1597 L2919,1597 L2991,1640 L2993,1652 L2968,1725 L2937,1737 L2924,1783 L2924,1893 L2879,1893 L2879,1782 L2873,1782 L2873,1893 L2833,1893 L2833,1783 L2820,1737 L2792,1727 L2764,1652 L2766,1642 Z" fill="#000"/>
<path d="M2794,1657 L2833,1633 L2833,1717 L2812,1717 Z M2960,1657 L2924,1633 L2924,1717 L2942,1717 Z" fill="#fff"/>
<!-- emoji -->
<circle cx="2945" cy="1497" r="57" fill="url(#emg)" stroke="#D08A20" stroke-width="2"/>
<ellipse cx="2917" cy="1505" rx="13" ry="9" fill="#F07040" opacity=".6"/>
<ellipse cx="2981" cy="1505" rx="13" ry="9" fill="#F07040" opacity=".6"/>
<path d="M2915,1487 Q2925,1478 2935,1487 M2962,1487 Q2972,1478 2982,1487" stroke="#4A3A2A" stroke-width="5" fill="none"/>
<path d="M2930,1530 Q2947,1515 2962,1530" stroke="#3A2A1A" stroke-width="4" fill="none"/>
<path d="M2976,1492 C2980,1505 2985,1512 2985,1520 A9,9 0 0 1 2967,1520 C2967,1512 2972,1505 2976,1492Z" fill="#2080D0"/>
<text x="2761" y="1932" font-size="57" class="h" textLength="222" lengthAdjust="spacingAndGlyphs">granjero</text>

<!-- labels -->
<text x="38" y="1860" font-size="56" class="h" textLength="694" lengthAdjust="spacingAndGlyphs">gramíneas resistentes a la</text>
<text x="48" y="1940" font-size="56" class="h" textLength="674" lengthAdjust="spacingAndGlyphs">sequía (raíces profundas)</text>
<text x="875" y="1762" font-size="56" class="h" textLength="455" lengthAdjust="spacingAndGlyphs">nueva tecnología</text>
<text x="751" y="1841" font-size="56" class="h" textLength="708" lengthAdjust="spacingAndGlyphs">(tractores y cosechadoras)</text>
<text x="1586" y="1665" font-size="56" class="h" textLength="550" lengthAdjust="spacingAndGlyphs">cultivos susceptibles</text>
<text x="1624" y="1747" font-size="56" class="h" textLength="474" lengthAdjust="spacingAndGlyphs">a la sequía (raíces</text>
<text x="1684" y="1826" font-size="56" class="h" textLength="354" lengthAdjust="spacingAndGlyphs">superficiales)</text>

<!-- timeline -->
<text x="1124" y="1942" font-size="74" class="b" textLength="321" lengthAdjust="spacingAndGlyphs">1934-1940</text>
<path d="M1153,1990 L1153,1954 L1426,1954 L1426,1990" stroke="#000" stroke-width="6" fill="none"/>
<g stroke="#000" stroke-width="7" fill="#F2F2F2">
<path d="M17,1987 L478,1987 L572,2083 L478,2180 L17,2180 L115,2083Z"/>
<path d="M499,1987 L960,1987 L1054,2083 L960,2180 L499,2180 L597,2083Z"/>
<path d="M981,1987 L1442,1987 L1536,2083 L1442,2180 L981,2180 L1079,2083Z" fill="#00B050"/>
<path d="M1463,1987 L1924,1987 L2018,2083 L1924,2180 L1463,2180 L1561,2083Z"/>
<path d="M1945,1987 L2406,1987 L2500,2083 L2406,2180 L1945,2180 L2043,2083Z"/>
<path d="M2426,1987 L2887,1987 L2981,2083 L2887,2180 L2426,2180 L2524,2083Z"/>
</g>
<g class="b" text-anchor="middle" font-size="57">
<text x="299" y="2063" textLength="206" lengthAdjust="spacingAndGlyphs">La Edad</text>
<text x="299" y="2143" textLength="196" lengthAdjust="spacingAndGlyphs">Dorada</text>
<text x="778" y="2063" textLength="367" lengthAdjust="spacingAndGlyphs">Principios del</text>
<text x="780" y="2143" textLength="211" lengthAdjust="spacingAndGlyphs">siglo XX</text>
<text x="1265" y="2063" fill="#fff" textLength="206" lengthAdjust="spacingAndGlyphs">La Gran</text>
<text x="1267" y="2143" fill="#fff" textLength="279" lengthAdjust="spacingAndGlyphs">Depresión</text>
<text x="2725" y="2063" textLength="421" lengthAdjust="spacingAndGlyphs">Estados Unidos</text>
<text x="2723" y="2143" textLength="256" lengthAdjust="spacingAndGlyphs">Moderno</text>
</g>
<g class="b" text-anchor="middle" font-size="47">
<text x="1732" y="2033" textLength="388" lengthAdjust="spacingAndGlyphs">Segunda Guerra</text>
<text x="1734" y="2104" textLength="306" lengthAdjust="spacingAndGlyphs">Mundial y La</text>
<text x="1733" y="2174" textLength="266" lengthAdjust="spacingAndGlyphs">Guerra Fría</text>
<text x="2210" y="2030" textLength="319" lengthAdjust="spacingAndGlyphs">Movimientos</text>
<text x="2211" y="2100" textLength="167" lengthAdjust="spacingAndGlyphs">por los</text>
<text x="2211" y="2171" textLength="392" lengthAdjust="spacingAndGlyphs">Derechos Civiles</text>
</g>

<text x="33" y="2233" font-size="33" style="white-space:pre" textLength="2068" lengthAdjust="spacingAndGlyphs">Copyright © 2024 Seidlitz Education, LLC.  For image attribution, see www.thevisualnonglossary.com/att.html#SocUSH059</text>
<text x="2304" y="2225" font-size="33" textLength="667" lengthAdjust="spacingAndGlyphs">*Credit: Loza80/Wikimedia Commons</text>

<rect x="2" y="2" width="2996" height="2246" fill="none" stroke="#000" stroke-width="4"/>
</svg>
</body></html>
